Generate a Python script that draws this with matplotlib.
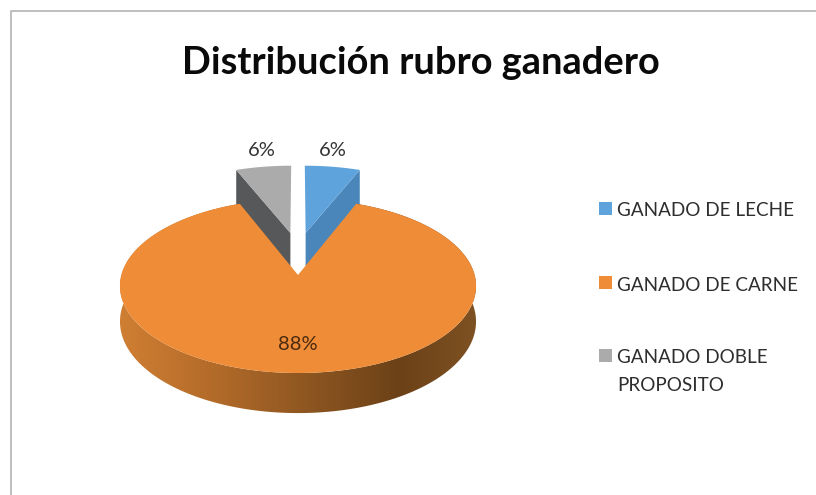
#!/usr/bin/env python3

import numpy as np
import matplotlib
matplotlib.use('Agg')
import matplotlib.pyplot as plt
from matplotlib.colors import LinearSegmentedColormap
from matplotlib.patches import Polygon, Rectangle

title = 'Distribución rubro ganadero'
categories = ['GANADO DE LECHE', 'GANADO DE CARNE', 'GANADO DOBLE\nPROPOSITO']
values = [6, 88, 6]

TOP_COLORS = ['#5fa3dc', '#ef8c37', '#ababab']
SIDE_COLORS = ['#4a86ba', None, '#56585a']
EXPLODE = [(0.046, 0.523), (0, 0), (-0.046, 0.523)]
LABEL_POS = [(333, 151), (298, 344), (262, 151)]
LEGEND_BOX_Y = [208, 282, 355]
LEGEND_TEXT_Y = [202, 277, 349]

# perspective of the pie, in pixels of the picture
X0, Y0 = 298, 275
RX, RY = 176.6, 85.6
K = 0.1266
DEPTH = 35
DEPTH_SLICE = 42


def project(u, v):
    s = 1 + K * v
    return X0 + RX * u / s, Y0 - RY * v / s


def rim(start, stop, offset):
    t = np.linspace(start, stop, 200)
    return np.sin(t) + offset[0], np.cos(t) + offset[1]


def shifted(u, v, depth):
    x, y = project(u, v)
    return x, y + depth / (1 + K * v)


plt.rcParams['font.family'] = ['Lato', 'DejaVu Sans']

fig = plt.figure(figsize=(8.16, 4.95), dpi=100)
ax = fig.add_axes((0, 0, 1, 1))
ax.set_xlim(0, 816)
ax.set_ylim(495, 0)
ax.set_axis_off()

# chart frame, runs off the picture on the right and at the bottom
ax.plot([11, 11, 816], [495, 11, 11], color='#b4b4b4', lw=1.2, zorder=1)

ax.text(421, 63, title, ha='center', va='center', fontsize=27.4,
        fontweight='bold', color='#0a0a0a')

edges = 2 * np.pi * np.cumsum([0] + values) / sum(values)

# the two small slices first, the big one overlaps their sides
for i in [0, 2]:
    off = EXPLODE[i]
    u, v = rim(edges[i], edges[i + 1], off)
    x, y = project(u, v)
    ax_x, ax_y = project(off[0], off[1])
    # the radial face that can be seen is the one away from the centre line
    end = -1 if i == 0 else 0
    cx, cy = project(u[end], v[end])
    cx2, cy2 = shifted(u[end], v[end], DEPTH_SLICE)
    ax_x2, ax_y2 = shifted(off[0], off[1], DEPTH_SLICE)
    ax.add_patch(Polygon([(ax_x, ax_y), (cx, cy), (cx2, cy2), (ax_x2, ax_y2)],
                         facecolor=SIDE_COLORS[i], edgecolor='none', zorder=2))
    ax.add_patch(Polygon(np.r_[[(ax_x, ax_y)], np.c_[x, y]],
                         facecolor=TOP_COLORS[i], edgecolor='none', zorder=3))

# big slice: side wall with a gradient, clipped to the wall outline
u, v = rim(edges[1], edges[2], EXPLODE[1])
x, y = project(u, v)
x2, y2 = shifted(u, v, DEPTH)
wall = Polygon(np.r_[np.c_[x, y], np.c_[x2, y2][::-1]], transform=ax.transData,
               facecolor='none', edgecolor='none')
ax.add_patch(wall)
wall_cmap = LinearSegmentedColormap.from_list(
    'wall', [(0, '#cf7f33'), (0.25, '#b56c2a'), (0.55, '#8a5420'),
             (0.78, '#6c4117'), (1, '#7e5222')])
grad = np.linspace(0, 1, 256)[None, :]
img = ax.imshow(grad, extent=(119, 479, 430, 190), cmap=wall_cmap, aspect='auto',
                zorder=4)
img.set_clip_path(wall)
ax.set_xlim(0, 816)
ax.set_ylim(495, 0)

ax_x, ax_y = project(0, 0)
ax.add_patch(Polygon(np.r_[[(ax_x, ax_y)], np.c_[x, y]],
                     facecolor=TOP_COLORS[1], edgecolor='none', zorder=5))

for val, (px, py), col in zip(values, LABEL_POS, ['#333333', '#4a2a10', '#333333']):
    ax.text(px, py, f'{val}%', ha='center', va='center', fontsize=14.5,
            color=col, zorder=6)

for name, col, by, ty in zip(categories, TOP_COLORS, LEGEND_BOX_Y, LEGEND_TEXT_Y):
    ax.add_patch(Rectangle((599, by - 6.5), 13, 13, facecolor=col,
                           edgecolor='none', zorder=6))
    ax.text(617, ty, name, ha='left', va='top', fontsize=13.6,
            color='#2e2e2e', linespacing=1.8, zorder=6)

fig.savefig('out.png', dpi=100, facecolor='white')
